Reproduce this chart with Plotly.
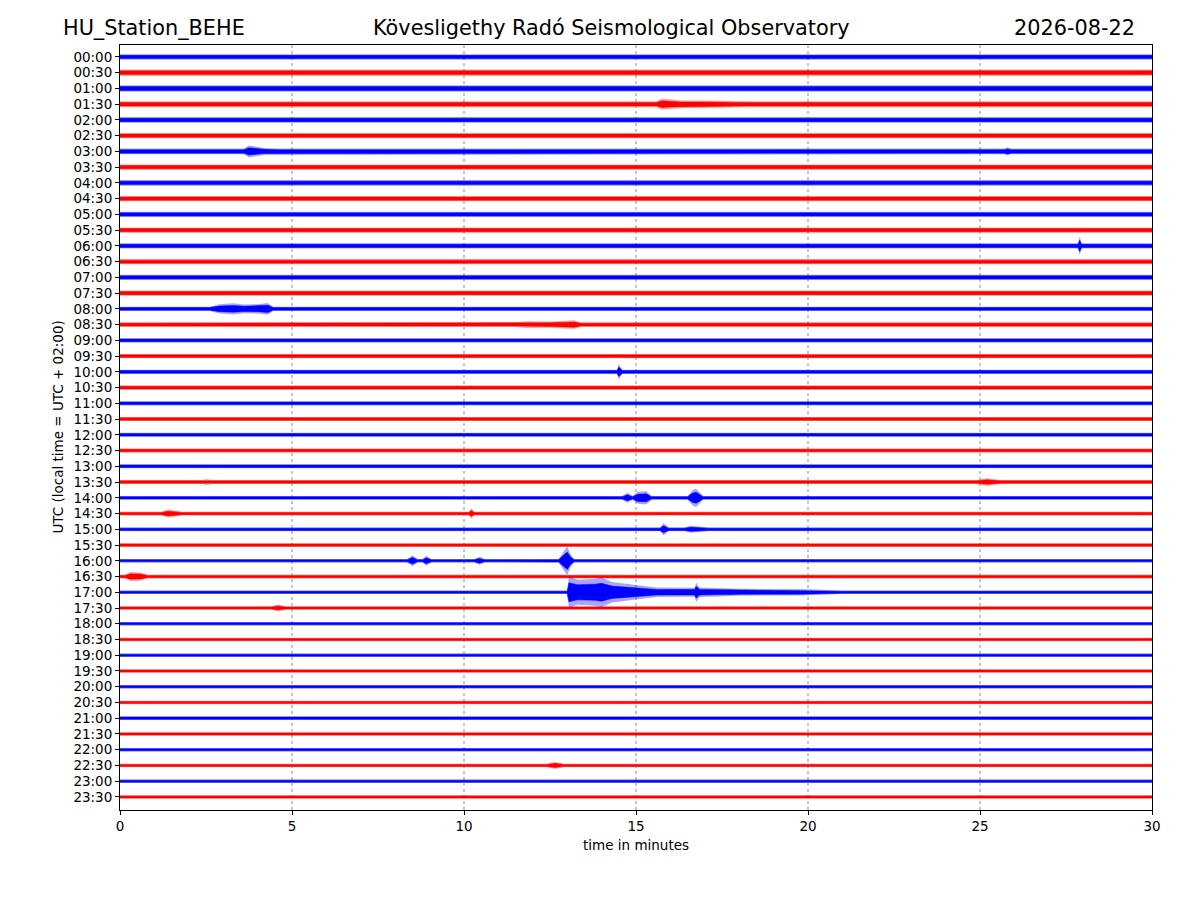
import plotly.graph_objects as go

# helicorder rows: 48 half-hour lines, 30 minutes each
row_labels = ["%02d:%02d" % (h, m) for h in range(24) for m in (0, 30)]

# background noise half-amplitude per row (in units of row spacing)
noise = [0.17, 0.20, 0.21, 0.19, 0.18, 0.17, 0.18, 0.17, 0.18, 0.17, 0.17, 0.17,
         0.17, 0.16, 0.16, 0.16, 0.14, 0.15, 0.14, 0.14, 0.14, 0.14, 0.13, 0.13,
         0.13, 0.13, 0.13, 0.13, 0.12, 0.12, 0.12, 0.12, 0.11, 0.12, 0.11, 0.11,
         0.11, 0.11, 0.11, 0.11, 0.11, 0.11, 0.12, 0.11, 0.11, 0.11, 0.11, 0.11]

# envelope points of the events seen: row -> [(minute, half amplitude), ...]
events = {
    3: [(15.6, 0.19), (15.75, 0.36), (16.0, 0.30), (16.3, 0.24), (17.0, 0.24),
        (17.7, 0.22), (18.2, 0.19)],
    6: [(3.6, 0.18), (3.75, 0.38), (3.9, 0.32), (4.2, 0.22), (4.6, 0.18),
        (25.7, 0.18), (25.8, 0.26), (25.9, 0.18)],
    12: [(27.85, 0.17), (27.9, 0.60), (27.95, 0.17)],
    16: [(2.6, 0.14), (2.9, 0.30), (3.3, 0.35), (3.6, 0.28), (4.0, 0.30),
         (4.3, 0.38), (4.45, 0.14)],
    17: [(11.5, 0.15), (11.8, 0.22), (12.5, 0.20), (13.2, 0.28), (13.4, 0.15)],
    20: [(14.45, 0.14), (14.5, 0.50), (14.6, 0.14)],
    27: [(2.4, 0.13), (2.5, 0.20), (2.7, 0.13),
         (24.9, 0.13), (25.2, 0.24), (25.6, 0.13)],
    28: [(14.6, 0.12), (14.75, 0.32), (14.9, 0.12), (15.05, 0.38), (15.3, 0.42),
         (15.45, 0.12), (16.5, 0.12), (16.65, 0.50), (16.75, 0.58), (16.95, 0.12)],
    29: [(1.2, 0.12), (1.4, 0.25), (1.8, 0.12),
         (10.15, 0.12), (10.2, 0.32), (10.3, 0.12)],
    30: [(15.7, 0.12), (15.8, 0.38), (15.95, 0.12),
         (16.4, 0.12), (16.6, 0.22), (17.1, 0.12)],
    32: [(8.35, 0.11), (8.5, 0.35), (8.65, 0.11), (8.8, 0.11), (8.9, 0.32),
         (9.05, 0.11), (10.3, 0.11), (10.45, 0.25), (10.6, 0.11),
         (12.75, 0.12), (12.9, 0.60), (13.0, 0.92), (13.1, 0.40), (13.2, 0.11)],
    33: [(0.15, 0.12), (0.3, 0.28), (0.6, 0.26), (0.8, 0.12)],
    34: [(13.0, 0.11), (13.05, 1.00), (13.3, 0.80), (13.8, 0.85), (14.0, 0.95),
         (14.3, 0.65), (14.8, 0.50), (15.2, 0.40), (15.6, 0.30), (16.7, 0.28),
         (16.75, 0.60), (16.85, 0.30), (17.3, 0.28), (18.0, 0.22), (19.8, 0.20),
         (20.7, 0.14), (21.0, 0.11)],
    35: [(4.4, 0.11), (4.6, 0.22), (4.8, 0.11)],
    45: [(12.4, 0.11), (12.65, 0.22), (12.9, 0.11)],
}

fig = go.Figure()


def band(xs, center, amp, color, opacity, lw):
    upper = [center + a for a in amp]
    lower = [center - a for a in amp]
    fig.add_trace(go.Scatter(
        x=xs + xs[::-1], y=upper + lower[::-1],
        fill="toself", fillcolor=color, opacity=opacity, mode="lines",
        line=dict(color=color, width=lw),
        hoverinfo="skip", showlegend=False))


for i, lab in enumerate(row_labels):
    color = "#0000ff" if i % 2 == 0 else "#ff0000"
    pts = events.get(i, [])
    xs = [0] + [p[0] for p in pts] + [30]
    amp = [noise[i]] + [p[1] for p in pts] + [noise[i]]
    # faint outer fuzz = full extent, solid core narrower
    band(xs, -i, amp, color, 0.35, 0)
    core = [0.6 * a for a in amp]
    band(xs, -i, core, color, 1.0, 0.5)

fig.update_layout(
    width=1200, height=900,
    margin=dict(l=112, r=56, t=37, b=98),
    paper_bgcolor="white", plot_bgcolor="white",
    font=dict(family="DejaVu Sans", color="black", size=13),
    showlegend=False,
)

fig.update_xaxes(
    range=[0, 30], tickvals=[0, 5, 10, 15, 20, 25, 30],
    showgrid=False, zeroline=False,
    showline=True, linecolor="black", linewidth=1, mirror=True,
    ticks="outside", ticklen=4, tickcolor="black", tickfont=dict(size=13.5),
)
fig.update_yaxes(
    range=[-47.83, 0.76],
    tickvals=[-i for i in range(len(row_labels))], ticktext=row_labels,
    showgrid=False, zeroline=False,
    showline=True, linecolor="black", linewidth=1, mirror=True,
    ticks="outside", ticklen=4, tickcolor="black", tickfont=dict(size=13.5),
)

# dotted vertical grid lines
for gx in [5, 10, 15, 20, 25]:
    fig.add_shape(type="line", xref="x", yref="paper", x0=gx, x1=gx, y0=0, y1=1,
                  line=dict(color="#444444", width=0.6, dash="dot"), layer="below")

titles = [
    ("HU_Station_BEHE", -0.057, "left"),
    ("Kövesligethy Radó Seismological Observatory", 0.476, "center"),
    ("2026-08-22", 0.9855, "right"),
]
for txt, tx, anchor in titles:
    fig.add_annotation(text=txt, xref="paper", yref="paper", x=tx, y=1.022,
                       xanchor=anchor, yanchor="middle", showarrow=False,
                       font=dict(size=20.8))

fig.add_annotation(text="UTC (local time = UTC + 02:00)", xref="paper", yref="paper",
                   x=-0.061, y=0.5, textangle=-90, showarrow=False,
                   xanchor="center", yanchor="middle", font=dict(size=13.5))
fig.add_annotation(text="time in minutes", xref="paper", yref="paper",
                   x=0.5, y=-0.046, showarrow=False,
                   xanchor="center", yanchor="middle", font=dict(size=13.5))

fig.write_html("out.html")
